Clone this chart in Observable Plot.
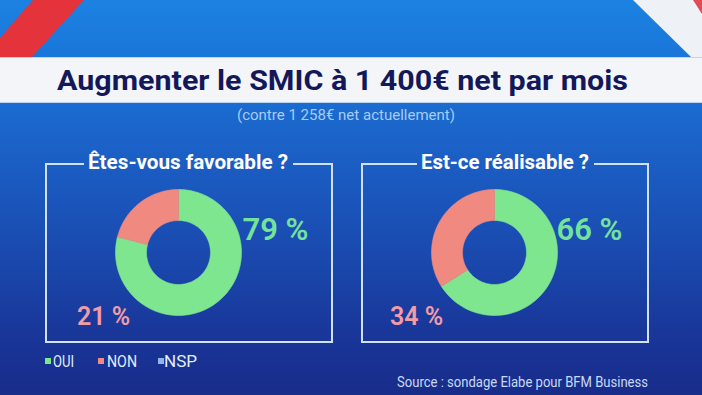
<!DOCTYPE html>
<html>
<head>
<meta charset="utf-8">
<script src="https://cdn.jsdelivr.net/npm/d3@7"></script>
<script src="https://cdn.jsdelivr.net/npm/@observablehq/plot@0.6"></script>
<style>
  html, body { margin: 0; padding: 0; background: #1a3a9e; }
  #stage { position: relative; width: 702px; height: 395px; overflow: hidden;
    font-family: Roboto, "Liberation Sans", sans-serif;
    background: linear-gradient(to bottom, #1c82e2 0px, #1a76d8 57px, #1b6bd0 105px, #1b5cc2 170px, #1a48ad 260px, #19379a 330px, #182c8a 395px); }
  .abs { position: absolute; white-space: nowrap; }
  .fit { display: inline-block; transform-origin: left center; }
  #band { left: 0; top: 57px; width: 702px; height: 46px; background: #f3f5f8;
    border-top: 1px solid #bcd6f2; border-bottom: 1px solid #bcd6f2; box-sizing: border-box; }
  .box { position: absolute; border: 2px solid #cfe2fa; border-top: none; box-sizing: border-box; }
  .seg { position: absolute; height: 2px; background: #cfe2fa; }
</style>
</head>
<body>
<div id="stage"></div>
<script>
// ---- data ----
const title = "Augmenter le SMIC à 1 400€ net par mois";
const subtitle = "(contre 1 258€ net actuellement)";
const questions = ["Êtes-vous favorable ?", "Est-ce réalisable ?"];
const categories = ["OUI", "NON", "NSP"];
const colors = ["#7fe690", "#f08a80", "#8fb6e6"];
const labelColors = ["#74e39a", "#f29ca6", "#8fb6e6"];
const favorable = [79, 21, 0];
const realisable = [66, 34, 0];
const source = "Source : sondage Elabe pour BFM Business";

const stage = document.getElementById("stage");
function el(tag, cls, css, html) {
  const e = document.createElement(tag);
  if (cls) e.className = cls;
  Object.assign(e.style, css || {});
  if (html != null) e.innerHTML = html;
  stage.appendChild(e);
  return e;
}
// fit text: left position, width target, center y
function fitText(text, left, width, cy, css) {
  const wrap = el("div", "abs", Object.assign({left: left + "px", top: "0px"}, css));
  const span = document.createElement("span");
  span.className = "fit";
  span.textContent = text;
  wrap.appendChild(span);
  const r = span.getBoundingClientRect();
  const s = width / r.width;
  span.style.transform = `scaleX(${s})`;
  wrap.style.top = (cy - r.height / 2) + "px";
  return wrap;
}

// decorations (flag stripes)
el("div", "abs", {left: "0px", top: "0px", width: "100px", height: "57px", background: "#e5333b",
  clipPath: "polygon(33px 0, 84px 0, 32px 57px, 0 57px, 0 38px)"});
el("div", "abs", {left: "600px", top: "0px", width: "102px", height: "57px", background: "#eef1f5",
  clipPath: "polygon(33px 0, 102px 0, 102px 57px, 91px 57px)"});
el("div", "abs", {left: "600px", top: "0px", width: "102px", height: "57px", background: "#e24a55",
  clipPath: "polygon(93px 0, 102px 0, 102px 14px)"});

// title band
el("div", "abs", {}, "").id = "band";
document.getElementById("band").className = "abs";
fitText(title, 57, 571, 80, {fontSize: "28px", fontWeight: "700", color: "#13185a"});
fitText(subtitle, 237, 218, 115, {fontSize: "15px", color: "#a6cdf3"});

// boxes + donuts
const boxes = [
  {left: 45, titleL: 88, titleW: 200, values: favorable},
  {left: 361, titleL: 421, titleW: 168, values: realisable}
];
const boxW = 288, boxTop = 164, boxH = 179;

function slices(values) {
  const pts = [];
  const total = d3.sum(values);
  let acc = 0;
  const rO = 63, rI = 32, n = 120;
  values.forEach((v, i) => {
    if (v <= 0) { return; }
    const a0 = acc / total * 2 * Math.PI, a1 = (acc + v) / total * 2 * Math.PI;
    acc += v;
    const steps = Math.max(2, Math.ceil(n * v / total));
    for (let k = 0; k <= steps; k++) {
      const a = a0 + (a1 - a0) * k / steps;
      pts.push({key: categories[i], x: rO * Math.sin(a), y: rO * Math.cos(a)});
    }
    for (let k = steps; k >= 0; k--) {
      const a = a0 + (a1 - a0) * k / steps;
      pts.push({key: categories[i], x: rI * Math.sin(a), y: rI * Math.cos(a)});
    }
  });
  return pts;
}

boxes.forEach((b, bi) => {
  el("div", "box", {left: b.left + "px", top: boxTop + "px", width: boxW + "px", height: boxH + "px"});
  el("div", "seg", {left: b.left + "px", top: (boxTop - 1) + "px", width: (b.titleL - 4 - b.left) + "px"});
  el("div", "seg", {left: (b.titleL + b.titleW + 5) + "px", top: (boxTop - 1) + "px", width: (b.left + boxW - b.titleL - b.titleW - 5) + "px"});
  fitText(questions[bi], b.titleL, b.titleW, 162, {fontSize: "20px", fontWeight: "700", color: "#ffffff"});

  const plot = Plot.plot({
    width: boxW, height: boxH, margin: 0,
    x: {domain: [-133, 155], axis: null},
    y: {domain: [-91, 88], axis: null},
    color: {domain: categories, range: colors},
    style: {background: "transparent", overflow: "visible"},
    marks: [
      Plot.line(slices(b.values), {x: "x", y: "y", z: "key", fill: "key", stroke: "key", strokeWidth: 0.6, curve: "linear-closed"}),
      Plot.text([b.values[0]], {text: d => d + " %", frameAnchor: "top-left", dx: bi ? 228 : 230, dy: 53,
        fill: labelColors[0], fontSize: 31, fontWeight: 600, fontFamily: "Roboto", textAnchor: "middle"}),
      Plot.text([b.values[1]], {text: d => d + " %", frameAnchor: "top-left", dx: bi ? 55 : 58, dy: 143,
        fill: labelColors[1], fontSize: 25, fontWeight: 600, fontFamily: "Roboto", textAnchor: "middle"})
    ]
  });
  plot.style.position = "absolute";
  plot.style.left = b.left + "px";
  plot.style.top = boxTop + "px";
  stage.appendChild(plot);
});

// legend
const legendPos = [45, 98, 158];
categories.forEach((c, i) => {
  el("div", "abs", {left: legendPos[i] + "px", top: "358px", width: "6px", height: "6px", background: colors[i]});
});
fitText("OUI", 53, 21, 361, {fontSize: "16px", color: "#e6eefc"});
fitText("NON", 107, 30, 361, {fontSize: "16px", color: "#e6eefc"});
fitText("NSP", 164, 33, 361, {fontSize: "16px", color: "#e6eefc"});

fitText(source, 397, 251, 382, {fontSize: "15px", color: "#c8daf4"});
</script>
</body>
</html>
